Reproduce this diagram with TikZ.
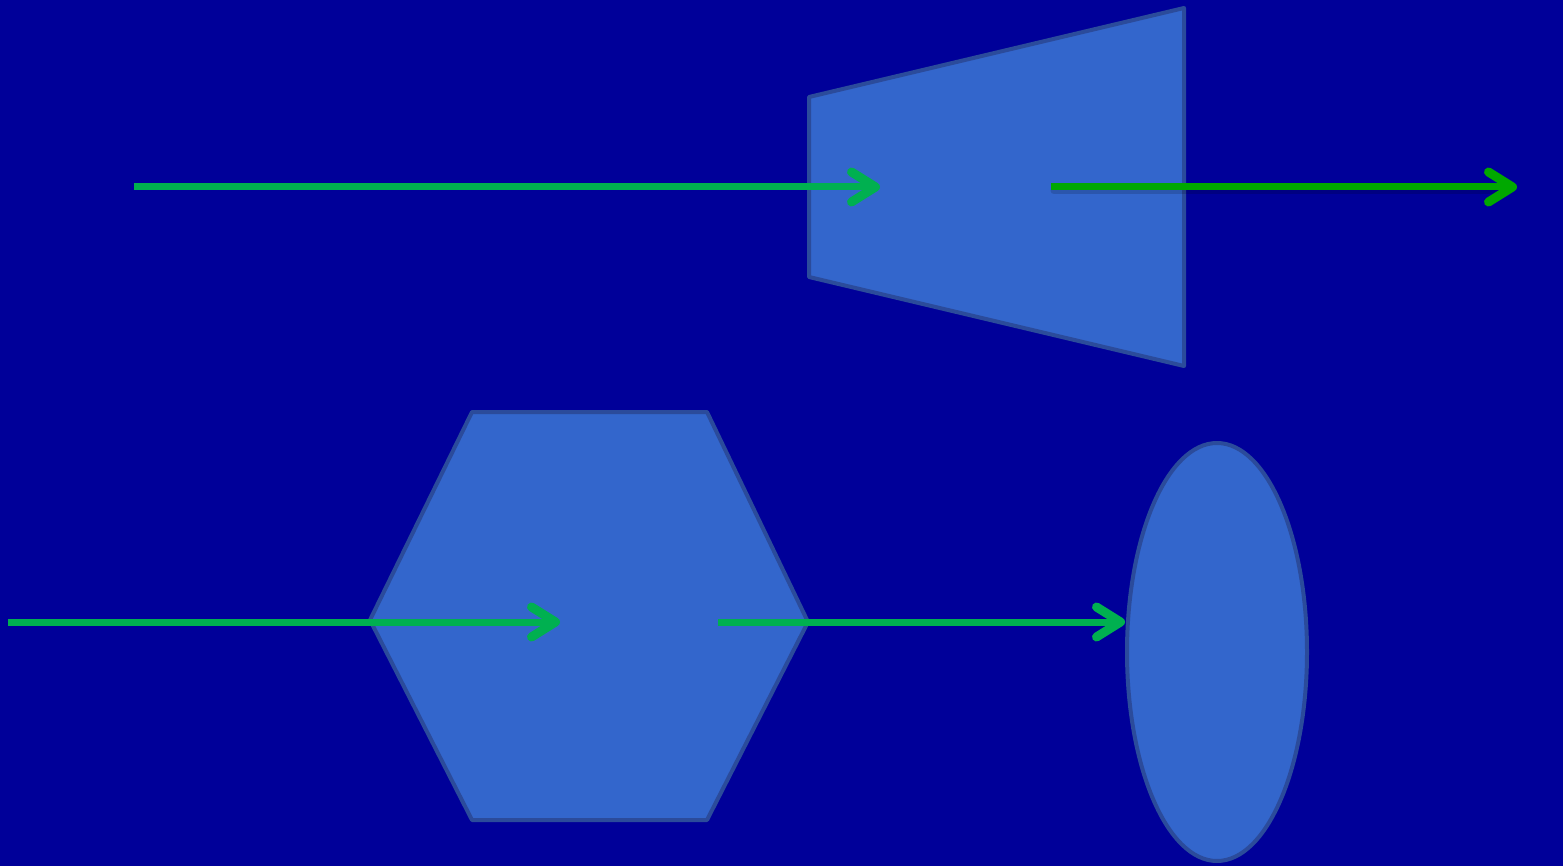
\documentclass[tikz,border=0pt]{standalone}
\usetikzlibrary{arrows.meta,shapes.geometric}
\definecolor{bg}{HTML}{000099}
\definecolor{shapefill}{HTML}{3366CC}
\definecolor{shapeline}{HTML}{2B4B9B}
\definecolor{arrowgreen}{HTML}{00B050}
\definecolor{arrowgreenB}{HTML}{00A800}
\tikzset{
  shapestyle/.style={fill=shapefill,draw=shapeline,line width=4pt,line join=round},
  flowarrow/.style={draw=arrowgreen,line width=7pt,
    -{Straight Barb[length=24pt,width=30pt,line width=9pt,line cap=round,line join=round]}},
  shadowline/.style={draw=black,opacity=0.15,line width=7pt,line cap=round}
}
\begin{document}
\begin{tikzpicture}[x=1pt,y=-1pt]
\fill[bg] (0,0) rectangle (1563,866);
\useasboundingbox (0,0) rectangle (1563,866);
% trapezoid
\draw[shapestyle] (809,97) -- (1184,8) -- (1184,366) -- (809,277) -- cycle;
% hexagon
\draw[shapestyle] (472,412) -- (707,412) -- (808,622) -- (707,820) -- (472,820) -- (370,620) -- cycle;
% ellipse
\draw[shapestyle] (1217,652) ellipse [x radius=90, y radius=209];
% arrow coordinates
\coordinate (a1s) at (134,187);
\coordinate (a1e) at (880,187);
\coordinate (a2s) at (1051,187);
\coordinate (a2e) at (1517,187);
\coordinate (a3s) at (8,622);
\coordinate (a3e) at (560,622);
\coordinate (a4s) at (718,622);
\coordinate (a4e) at (1125,622);
\draw[flowarrow] (a1s) -- (a1e);
\draw[shadowline] ([shift={(3,4)}]a2s) -- ([shift={(-8,4)}]a2e);
\draw[flowarrow,draw=arrowgreenB] (a2s) -- (a2e);
\draw[flowarrow] (a3s) -- (a3e);
\draw[flowarrow] (a4s) -- (a4e);
\end{tikzpicture}
\end{document}
